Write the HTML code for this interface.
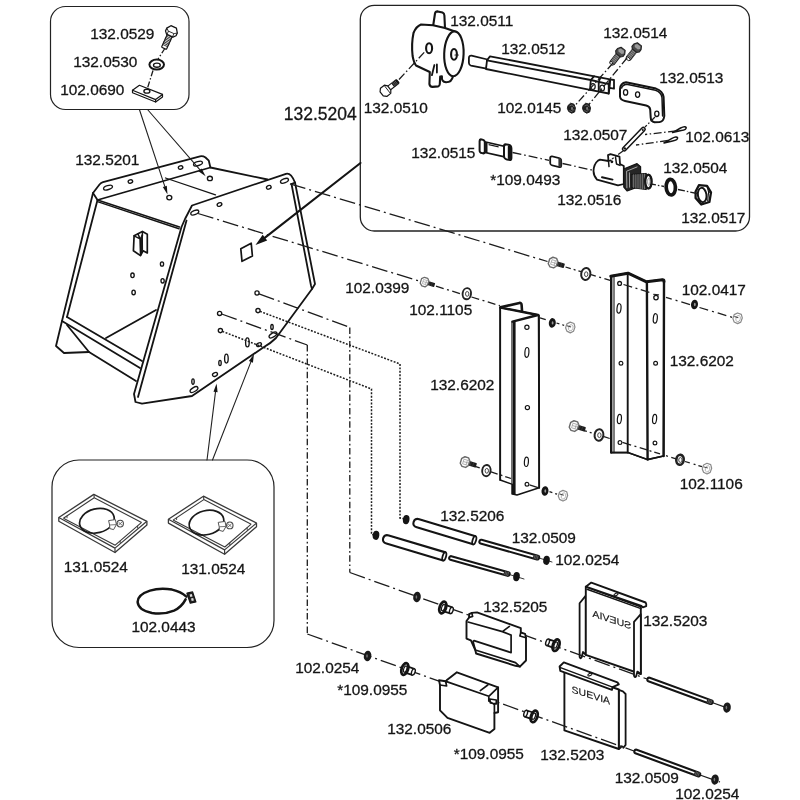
<!DOCTYPE html>
<html>
<head>
<meta charset="utf-8">
<title>Parts diagram</title>
<style>
html,body{margin:0;padding:0;background:#fff;}
body{width:800px;height:800px;overflow:hidden;font-family:"Liberation Sans",sans-serif;}
svg{display:block;filter:grayscale(1);}
svg text{font-family:"Liberation Sans",sans-serif;font-size:15.4px;fill:#151515;stroke:#151515;stroke-width:0.3;}
.o{fill:none;stroke:#141414;stroke-width:1.8;stroke-linejoin:round;stroke-linecap:round;}
.w{fill:#fff;stroke:#141414;stroke-width:1.8;stroke-linejoin:round;stroke-linecap:round;}
.t{fill:none;stroke:#222;stroke-width:0.9;stroke-linecap:round;}
.k{fill:none;stroke:#141414;stroke-width:2.2;stroke-linejoin:round;stroke-linecap:round;}
.dd{fill:none;stroke:#1c1c1c;stroke-width:1.3;stroke-dasharray:16 4 2 4;}
.dt{fill:none;stroke:#1c1c1c;stroke-width:1.5;stroke-dasharray:1.9 1.5;}
.h{fill:#fff;stroke:#141414;stroke-width:1.35;}
.b{fill:#141414;stroke:none;}
</style>
</head>
<body>
<svg width="800" height="800" viewBox="0 0 800 800">
<rect width="800" height="800" fill="#fff"/>

<!-- ===== FRAMES ===== -->
<g id="frames">
<rect class="t" x="50.5" y="6.5" width="138.5" height="103" rx="15" ry="15" style="stroke-width:1.2"/>
<rect class="t" x="360.3" y="5.3" width="389.2" height="225.7" rx="14" ry="14" style="stroke-width:1.3"/>
<rect class="t" x="52" y="460" width="222" height="187.5" rx="27" ry="27" style="stroke-width:1.2"/>
</g>

<!-- ===== HOUSING 132.5201 ===== -->
<g id="housing">
<!-- front panel -->
<path class="w" d="M185,219 L192,205.5 L286,173.8 Q291,172.5 295,182.5 L315,284 L312,289 L276,338 Q271,343 264,347 L192,396 L142,403.6 L135.5,402 L134,394 L181.5,227 Z"/>
<!-- front panel left thickness -->
<path class="o" d="M186.5,220.5 L138,397"/>
<!-- front panel right thickness -->
<path class="o" d="M291.5,184 L311,285.5 L312,289"/>
<path class="o" d="M291.5,184 L295,182.5"/>
<!-- flange -->
<path class="w" d="M93,193 L99.5,184.5 Q101,182.7 103,182.1 L200,156.3 Q203,155.8 205.5,157.5 L208.8,160.7 L210.4,167.5 L97.5,200 Z"/>
<!-- left panel -->
<path class="o" d="M93,193 L62,321 L56,346 L64,353 L89,352"/>
<path class="o" d="M97.5,200 L67,317"/>
<path class="o" d="M97.5,200 L179.5,227" style="stroke-width:1.6"/>
<path class="o" d="M98.2,201.9 L179,228.8" style="stroke-width:1.5"/>
<!-- back wall top edge & thin line -->
<path class="o" d="M210.4,167.5 L267.5,179.5"/>
<path class="o" d="M165.5,178 L215.5,194.8" style="stroke-width:1.3"/>
<!-- bottom crossbar -->
<path class="o" d="M67,317 L142,361"/>
<path class="o" d="M62,321 L140,368"/>
<path class="o" d="M67,325 L89,352 L136,381"/>
<path class="o" d="M106,338 L156,310"/>
<!-- U bracket on back wall -->
<path class="w" d="M134.1,235.8 L142.4,231.6 L147.3,234.3 L147.3,253 L143.1,250.8 L140.5,255.6 L133.4,250.8 Z" style="stroke-width:1.7"/>
<path d="M140.3,238.6 L142.4,234.2 L142.6,250.4 L140.6,254.6 Z" fill="#1a1a1a" stroke="#141414" stroke-width="1"/>
<path class="o" d="M134.1,235.8 L140.1,238.8 L140.5,255.6 M142.4,231.6 L142.4,236 M137.9,233.9 L140.1,238.8" style="stroke-width:1.5"/>
<!-- holes back wall -->
<ellipse class="h" cx="132.5" cy="275.3" rx="1.7" ry="2.3"/>
<ellipse class="h" cx="133.6" cy="292.4" rx="1.7" ry="2.3"/>
<ellipse class="h" cx="162" cy="264" rx="1.6" ry="2.2"/>
<ellipse class="h" cx="162.6" cy="280.8" rx="1.6" ry="2.2"/>
<!-- holes top surface -->
<ellipse class="h" cx="169.3" cy="197.6" rx="2.5" ry="2.2"/>
<ellipse class="h" cx="209.9" cy="178.4" rx="2.5" ry="2.2"/>
<!-- flange holes -->
<ellipse class="h" cx="108" cy="187.6" rx="4.6" ry="2" transform="rotate(-17 108 187.6)"/>
<ellipse class="h" cx="130.4" cy="181.5" rx="2.3" ry="1.6" transform="rotate(-17 130.4 181.5)"/>
<ellipse class="h" cx="180.6" cy="167.5" rx="2.3" ry="1.6" transform="rotate(-17 180.6 167.5)"/>
<ellipse class="h" cx="198" cy="163.6" rx="4.6" ry="2" transform="rotate(-17 198 163.6)"/>
<!-- front panel holes -->
<ellipse class="h" cx="194.8" cy="212.6" rx="4.2" ry="2" transform="rotate(-22 194.8 212.6)"/>
<ellipse class="h" cx="219.5" cy="204.5" rx="2.4" ry="1.7" transform="rotate(-22 219.5 204.5)"/>
<ellipse class="h" cx="268.8" cy="187.3" rx="2.4" ry="1.7" transform="rotate(-22 268.8 187.3)"/>
<ellipse class="h" cx="284.5" cy="180.8" rx="4.2" ry="2" transform="rotate(-22 284.5 180.8)"/>
<circle class="h" cx="257" cy="293" r="2.1"/>
<circle class="h" cx="258" cy="310.6" r="2.1"/>
<circle class="h" cx="219.6" cy="313.4" r="2.1"/>
<circle class="h" cx="220.4" cy="330.6" r="2.1"/>
<ellipse class="h" cx="272" cy="327" rx="1.2" ry="2.5"/>
<ellipse class="h" cx="273" cy="335" rx="4.4" ry="2" transform="rotate(-32 273 335)"/>
<ellipse class="h" cx="247.4" cy="342.4" rx="1.8" ry="4.5"/>
<ellipse class="h" cx="259" cy="344.6" rx="2.6" ry="1.6" transform="rotate(-25 259 344.6)"/>
<ellipse class="h" cx="226.4" cy="358.6" rx="1.8" ry="4.5"/>
<ellipse class="h" cx="220" cy="363" rx="1.2" ry="2.6"/>
<ellipse class="h" cx="215" cy="374.4" rx="2.6" ry="1.8" transform="rotate(-25 215 374.4)"/>
<ellipse class="h" cx="193" cy="381.6" rx="1.2" ry="2.8"/>
<ellipse class="h" cx="194" cy="389.6" rx="4.4" ry="2" transform="rotate(-32 194 389.6)"/>
<!-- small square window -->
<path class="o" d="M240.8,248.8 L251.2,243.2 L252.4,256 L242,261.3 Z" style="stroke-width:1.7"/>
</g>

<!-- ===== BRACKETS 132.6202 ===== -->
<g id="brackets">
<!-- left bracket -->
<path class="w" style="stroke-width:1.5" d="M500.2,307.5 L538.5,315 L539.2,487.8 L517,495 L512.4,494 L512.4,484.4 L500.2,480 Z"/>
<path class="k" style="stroke-width:2.6" d="M500.4,307.3 L519.5,302.9 Q521.5,302.8 521.6,305 L522,310.5"/>
<path class="k" style="stroke-width:2.4" d="M500.6,307.6 L538,315 L512.5,321.6"/>
<path class="k" style="stroke-width:2.6" d="M514.3,322 L514.3,493.5"/>
<path class="o" style="stroke-width:1.2" d="M512,321.8 L512,494"/>
<path class="o" style="stroke-width:1.8" d="M539,315.5 L539.2,487.8"/>
<path class="o" style="stroke-width:1.8" d="M500.2,307.5 L500.2,480"/>
<circle class="h" cx="526.9" cy="327.3" r="2.1" style="stroke-width:1.2"/>
<ellipse class="h" cx="526.9" cy="352.4" rx="2" ry="4.9" style="stroke-width:1.2" transform="rotate(4 526.9 352.4)"/>
<circle class="h" cx="527.4" cy="407.6" r="2.1" style="stroke-width:1.2"/>
<ellipse class="h" cx="526.4" cy="461.8" rx="2" ry="4.7" style="stroke-width:1.2" transform="rotate(4 526.4 461.8)"/>
<circle class="h" cx="527" cy="484.2" r="1.9" style="stroke-width:1.2"/>
<!-- right bracket -->
<path class="w" style="stroke-width:1.5" d="M610.8,276 L628,273 L646.5,281.6 L662.5,279.6 Q664,279.6 664,281 L663.6,456 L647.5,459.6 L628,452.6 L611,452.6 Z"/>
<path class="k" style="stroke-width:3" d="M610.8,276.2 L628,273.2 L646.5,281.8 L662.5,279.8 Q664,279.8 664,281.5"/>
<path class="k" style="stroke-width:2.4" d="M611.2,276.5 L611.2,452.4"/>
<path class="o" style="stroke-width:1.1" d="M614,277.5 L614,452.6"/>
<path class="o" style="stroke-width:1.9" d="M627.7,274 L627.7,452.6"/>
<path class="k" style="stroke-width:2.4" d="M646.9,282.5 L647.6,459.4"/>
<path class="k" style="stroke-width:2.4" d="M664,281.5 L663.6,456"/>
<path class="o" style="stroke-width:1.6" d="M611,452.6 L628,452.6 L647.5,459.6 L663.6,456"/>
<circle class="h" cx="619.6" cy="283.4" r="1.9" style="stroke-width:1.3"/>
<ellipse class="h" cx="619" cy="308.4" rx="2" ry="4.7" style="stroke-width:1.2" transform="rotate(6 619 308.4)"/>
<circle class="h" cx="621" cy="363.2" r="1.9" style="stroke-width:1.2"/>
<ellipse class="h" cx="619.4" cy="419" rx="2" ry="4.7" style="stroke-width:1.2" transform="rotate(6 619.4 419)"/>
<circle class="h" cx="620" cy="442.6" r="1.9" style="stroke-width:1.2"/>
<circle class="h" cx="656" cy="297.6" r="2.2" style="stroke-width:1.3"/>
<path class="t" d="M653.6,294.3 L658.6,294.9" style="stroke-width:1.1"/>
<ellipse class="h" cx="655.3" cy="318.4" rx="2" ry="4.7" style="stroke-width:1.2" transform="rotate(6 655.3 318.4)"/>
<circle class="h" cx="655.6" cy="363.2" r="1.9" style="stroke-width:1.2"/>
<ellipse class="h" cx="654.6" cy="419" rx="2" ry="4.7" style="stroke-width:1.2" transform="rotate(6 654.6 419)"/>
<circle class="h" cx="655" cy="443" r="1.9" style="stroke-width:1.2"/>
</g>

<!-- ===== FLAPS ===== -->
<g id="flapparts">
<!-- upper flap 132.5203 -->
<path class="w" style="stroke-width:1.8" d="M585.8,595.6 L579.6,603.2 L579.6,657 Q580.4,659.4 581.6,657.4 L583,652 L585.8,654.8 Z"/>
<path class="w" style="stroke-width:1.9" d="M585.8,586.7 L640.8,606.6 L640.8,674 L585.8,654.8 Z"/>
<path class="w" style="stroke-width:1.9" d="M585.8,586.7 L591.3,582.6 L645.6,602.5 Q646.8,604.5 646.2,606.2 L642.9,607.4 L641.4,606 L585.8,586.7 Z"/>
<path class="o" style="stroke-width:1.5" d="M587,589.2 L641,608.6"/>
<path class="w" style="stroke-width:1.8" d="M640.8,614.2 L634,621.8 L634,675.6 Q635,678.4 636.2,676 L637.4,671.6 L640.8,674 Z"/>
<ellipse class="h" cx="616" cy="594.4" rx="2.2" ry="1.1" transform="rotate(-25 616 594.4)" style="stroke-width:1.1"/>
<text transform="matrix(-0.95,-0.31,0,1,631.3,629.3)" style="font-size:9.6px;stroke-width:0.15" textLength="41" lengthAdjust="spacingAndGlyphs">SUEVIA</text>
<!-- lower flap 132.5203 -->
<path class="w" style="stroke-width:1.8" d="M618.8,689.9 L622.9,691.3 L625.6,694 L625.6,744.9 L623.4,747.8 Q622,745 621,747.2 L618.8,749 Z"/>
<path class="w" style="stroke-width:1.9" d="M564.4,670 L618.8,689.5 L618.8,749 L564.4,730.4 Z"/>
<path class="w" style="stroke-width:1.9" d="M559.6,666.5 L563.8,662.4 L617.4,682.3 L618.8,684.4 L612.6,687.1 L611.9,689.9 L560.3,670.8 Z"/>
<path class="o" style="stroke-width:1.5" d="M559.8,667.4 L612.6,687.1"/>
<ellipse class="h" cx="589.9" cy="674.6" rx="2.2" ry="1.1" transform="rotate(-25 589.9 674.6)" style="stroke-width:1.1"/>
<text transform="matrix(0.95,0.3,0,1,571.6,692.4)" style="font-size:9.6px;stroke-width:0.15" textLength="40.5" lengthAdjust="spacingAndGlyphs">SUEVIA</text>
</g>

<!-- ===== LEADER / CENTER LINES ===== -->
<g id="lines">
<path class="k" style="stroke-width:2.1" d="M360.5,163.0 L265.0,237.6"/><path class="b" d="M255.5,245.0 L262.7,234.7 L267.2,240.5 Z"/>
<path class="t" style="stroke-width:1.1" d="M139.4,109.5 L164.8,186.3"/><path class="b" d="M167.5,194.4 L162.8,187.0 L166.8,185.7 Z"/>
<path class="t" style="stroke-width:1.1" d="M147.5,109.5 L200.0,169.9"/><path class="b" d="M205.6,176.3 L198.4,171.3 L201.6,168.5 Z"/>
<path class="t" style="stroke-width:1.1" d="M207.0,460.0 L215.5,391.9"/><path class="b" d="M216.6,383.5 L217.6,392.2 L213.5,391.7 Z"/>
<path class="t" style="stroke-width:1.1" d="M212.5,460.0 L250.9,361.9"/><path class="b" d="M254.0,354.0 L252.9,362.7 L248.9,361.1 Z"/>
<path class="dd" d="M290.0,183.8 L547.5,261.5"/>
<path class="dd" d="M565.5,267.0 L581.0,271.7" style="stroke-dasharray:5.5 3 2 3"/>
<path class="dd" d="M591.0,274.7 L611.0,280.7" style="stroke-dasharray:5 3.5 2 3.5 20"/>
<path class="dd" d="M623.5,284.5 L652.0,293.1" style="stroke-dasharray:9 3.5 2 3.5"/>
<path class="dd" d="M666.0,297.3 L690.0,304.6" style="stroke-dasharray:6 4 2 4 20"/>
<path class="dd" d="M699.5,307.5 L733.0,317.6" style="stroke-dasharray:9 4 2 4"/>
<path class="dd" d="M198.0,213.5 L419.5,281.1"/>
<path class="dd" d="M436.0,286.2 L462.5,294.3" style="stroke-dasharray:8 3.5 2 3.5"/>
<path class="dd" d="M471.5,297.0 L500.0,305.7" style="stroke-dasharray:8 3.5 2 3.5"/>
<path class="dd" d="M540.0,317.9 L548.0,320.4" style="stroke-dasharray:6 20"/>
<path class="dd" d="M556.5,323.0 L566.0,325.9" style="stroke-dasharray:3 3 2 3"/>
<path class="dd" d="M475.0,466.3 L482.0,468.7" style="stroke-dasharray:5 20"/>
<path class="dd" d="M491.0,471.8 L511.0,478.5" style="stroke-dasharray:7 3 2 3"/>
<path class="dd" d="M529.5,484.8 L541.0,488.7" style="stroke-dasharray:9 20"/>
<path class="dd" d="M549.5,491.6 L559.0,494.8" style="stroke-dasharray:3 3 2 3"/>
<path class="dd" d="M584.0,430.6 L594.5,433.8" style="stroke-dasharray:3 3 2 3"/>
<path class="dd" d="M604.0,436.7 L611.0,438.9" style="stroke-dasharray:6 20"/>
<path class="dd" d="M622.5,442.4 L647.0,449.9" style="stroke-dasharray:9 3.5 2 3.5"/>
<path class="dd" d="M649.5,450.7 L662.0,454.5" style="stroke-dasharray:2 3 6 20"/>
<path class="dd" d="M666.0,455.7 L676.0,458.8" style="stroke-dasharray:2 3.5 5 20"/>
<path class="dd" d="M685.0,461.5 L702.0,466.7" style="stroke-dasharray:5 4 2 3 4 20"/>
<path class="dd" d="M259,293.8 L350,327.5"/>
<path class="dd" d="M349.8,327.5 L349.8,572.5" style="stroke-dasharray:6.5 2.6 1.7 2.6"/>
<path class="dd" d="M349.8,572.5 L647,679"/>
<path class="dd" d="M712,702.5 L730,709"/>
<path class="dd" d="M221.6,314 L307.3,345"/>
<path class="dd" d="M307.3,345 L307.3,634" style="stroke-dasharray:6.5 2.6 1.7 2.6"/>
<path class="dd" d="M307.3,634 L634,751"/>
<path class="dd" d="M700,775 L720,782"/>
<path class="dt" d="M260,311.4 L400,364 L400,518 L406,519"/>
<path class="dt" d="M222.4,331.4 L371.5,389 L371.5,534.5 L377,535.5"/>
<path class="t" d="M539,558 L552,562"/>
<path class="t" d="M509,574.4 L524,579"/>
</g>

<!-- ===== TOP LEFT BOX PARTS ===== -->
<g id="tlparts">
<!-- bolt 132.0529 -->
<g transform="translate(171.6,31.5) rotate(24.5)">
  <rect class="w" x="-2.7" y="3" width="5.4" height="15.5" rx="0.8" style="stroke-width:1.2"/>
  <path class="t" d="M-2.7,5 H2.7 M-2.7,6.5 H2.7 M-2.7,8 H2.7 M-2.7,9.5 H2.7 M-2.7,11 H2.7 M-2.7,12.5 H2.7 M-2.7,14 H2.7 M-2.7,15.5 H2.7" style="stroke-width:0.8"/>
  <path class="w" d="M-5.8,-1 L-3,-5 L3,-5 L5.8,-1 L5.8,2 L3.5,4.5 L-3.5,4.5 L-5.8,2 Z" style="stroke-width:1.3"/>
  <path class="t" d="M-5.8,-1 L-3,1 L3,1 L5.8,-1 M-3,1 V4.5 M3,1 V4.5"/>
</g>
<!-- washer 132.0530 -->
<ellipse class="w" cx="156.7" cy="64.6" rx="7.3" ry="5" style="stroke-width:2"/>
<ellipse class="h" cx="156.9" cy="65.2" rx="3.4" ry="2.1"/>
<!-- plate 102.0690 -->
<path class="w" d="M132.5,90.2 L139.4,85.3 L162.5,94.4 L162.5,97 L155.6,102 L132.5,92.7 Z" style="stroke-width:1.2"/>
<path class="o" d="M132.5,90.2 L155.6,99.6 L162.5,94.4 M155.6,99.6 V102" style="stroke-width:1.2"/>
<ellipse class="h" cx="146.9" cy="91.2" rx="3" ry="1.9"/>
</g>

<!-- ===== TOP RIGHT BOX PARTS ===== -->
<g id="trparts">
<!-- valve body 132.0511 -->
<path class="w" style="stroke-width:2.1" d="M433.2,25.5 L435,13.5 Q435.4,11.3 437.8,11.4 L442.5,12.6 Q444.3,13.2 444.4,15.5 L445,28"/>
<path class="w" style="stroke-width:2.1" d="M455,31.6 L445,28 L433,25.3 L421,24.5 Q416,26.5 413.5,33 Q411.2,44 412.6,56 Q413.8,62.5 416,65.5 L429.8,72 L429.4,84 Q429.8,86.8 432.5,86.9 L438.2,86.4 Q439.6,86.2 439.8,84 L440.2,76.5 L441.9,76.3 Q441.4,82 446,82.3 Q451.8,82.4 452.9,76.4 Z"/>
<ellipse class="w" style="stroke-width:2.1" cx="453.9" cy="53.8" rx="9.7" ry="22.4" transform="rotate(2 453.9 53.8)"/>
<ellipse class="w" style="stroke-width:2.1" cx="454" cy="54.4" rx="2.9" ry="5.4"/>
<path class="t" d="M455,55 H458.3" style="stroke-width:1.2"/>
<ellipse class="w" style="stroke-width:2.1" cx="429.1" cy="48.2" rx="3" ry="5"/>
<path class="o" d="M434.4,65 L431.9,75.2 M436.9,64.4 V72.5" style="stroke-width:1.8"/>
<!-- bolt 132.0510 -->
<g transform="translate(385.6,90.8) rotate(-38)">
  <rect class="w" x="3" y="-2.3" width="12.5" height="4.6" rx="0.8" style="stroke-width:1.1"/>
  <rect class="b" x="9" y="-2.4" width="6.6" height="4.8" rx="0.8"/>
  <path d="M10.5,-2.4 V2.4 M12,-2.4 V2.4 M13.5,-2.4 V2.4" stroke="#999" stroke-width="0.5"/>
  <path class="w" d="M-5,-2.6 L-2.5,-5.2 L2.5,-5.2 L4.6,-2.6 L4.6,2.6 L2.5,5.2 L-2.5,5.2 L-5,2.6 Z" style="stroke-width:1.2"/>
  <path class="t" d="M2.2,-5 V5"/>
</g>
<!-- rod 132.0512 -->
<path class="w" style="stroke-width:1.8" d="M487.5,59.5 L471.5,55.6 Q469,55.4 468.9,58 L468.9,63 Q469,65 471,65.6 L486.5,68.6 Z"/>
<path class="w" style="stroke-width:1.8" d="M487,60.4 L490,56.3 L610,79.3 L614,80 L614,88.7 L609.5,87.8 L608.7,93.5 L590,89.8 L486,69 Z"/>
<path class="o" style="stroke-width:1.8" d="M487,60.4 L590.8,80 L608.7,84.2 L608.7,93.5 M590.8,80 L590,89.8 M590.8,80 L594,76.3 M608.7,84.2 L610.3,79.3 L609.5,87.8 M598.7,81.8 L600.5,77.5 M598.7,81.8 V91.4"/>
<ellipse class="h" cx="592.9" cy="86.6" rx="2.3" ry="2.9" style="stroke-width:1.2"/>
<ellipse class="h" cx="602.2" cy="88" rx="2.3" ry="2.9" style="stroke-width:1.2"/>
<!-- bolts 132.0514 -->
<g id="b14" transform="translate(620.4,52.3) rotate(38)">
  <rect x="-2.6" y="2.5" width="5.2" height="11.5" rx="1" fill="#5a5a5a" stroke="#222" stroke-width="1"/>
  <path d="M-2.6,5 H2.6 M-2.6,6.8 H2.6 M-2.6,8.6 H2.6 M-2.6,10.4 H2.6 M-2.6,12.2 H2.6" stroke="#bbb" stroke-width="0.5"/>
  <ellipse cx="0" cy="14" rx="2.4" ry="1.4" fill="#eee" stroke="#222" stroke-width="0.9"/>
  <path d="M-4.6,-1.2 L-2.6,-4.4 L2.6,-4.4 L4.6,-1.2 L4.6,1.8 L2.8,3.6 L-2.8,3.6 L-4.6,1.8 Z" fill="#4a4a4a" stroke="#222" stroke-width="1.1" stroke-linejoin="round"/>
  <path d="M-3.4,-1.2 L-2,-3.4 L2,-3.4 L3.4,-1.2 L2,0.6 L-2,0.6 Z" fill="#9a9a9a" stroke="none"/>
</g>
<use href="#b14" x="16.3" y="-4.5"/>
<!-- nuts 102.0145 -->
<g id="n145"><path d="M568,105.6 L570.6,103.2 L574,104.2 L575.4,108 L574.6,112 L571.6,113.2 L568.6,111.4 L567.4,108.4 Z" fill="#1e1e1e" stroke="#1e1e1e" stroke-width="1" stroke-linejoin="round"/><path d="M569.4,106 l2.8,-1.2 l2,2.4 M569.2,110.6 l2.8,1 l2,-2.4" stroke="#8a8a8a" stroke-width="0.6" fill="none"/><ellipse cx="572" cy="108.4" rx="1" ry="1.6" fill="#777"/></g>
<use href="#n145" x="15.1" y="0"/>
<!-- bracket 132.0513 -->
<path class="w" style="stroke-width:2" d="M620,96.5 L620,89 Q620.3,83.2 626,82.3 L656,88.6 Q662.6,90.6 663.6,97 L664.3,116 Q663.6,121.6 659.6,122.1 L654.5,122.3 Q650.8,121.3 650.7,117.5 L650.2,109.5 Q649.7,106.3 646.2,105.5 L625,101 Q620.3,100 620,96.5 Z"/>
<path class="o" style="stroke-width:1.5" d="M621.6,88 Q622.3,85 626.6,84.2 L655.5,90.3 Q661,92 662,97.5 L662.6,116"/>
<ellipse class="h" cx="625.6" cy="92.4" rx="2.1" ry="2.7" style="stroke-width:1.3"/>
<ellipse class="h" cx="637.6" cy="94.6" rx="2.1" ry="2.7" style="stroke-width:1.3"/>
<ellipse class="h" cx="656.8" cy="113.8" rx="2.1" ry="2.7" style="stroke-width:1.3"/>
<!-- link 132.0507 -->
<path d="M643.3,129.3 L624.3,149" stroke="#141414" stroke-width="5.2" stroke-linecap="round" fill="none"/>
<path d="M643.3,129.3 L624.3,149" stroke="#fff" stroke-width="2.2" stroke-linecap="round" fill="none"/>
<circle cx="642.8" cy="129.9" r="1" class="b"/><circle cx="624.8" cy="148.4" r="1.2" class="b"/>
<!-- cotter pins 102.0613 -->
<g id="cp"><path d="M672.6,132.6 L680.6,128 Q685.4,125.6 686.2,127.6 Q686.4,129.8 681.2,130.6 Z" fill="#fff" stroke="#141414" stroke-width="1.5" stroke-linejoin="round"/></g>
<use href="#cp" x="-8.6" y="10.3"/>
<!-- body 132.0516 -->
<path class="w" style="stroke-width:1.8" d="M608.5,161 L608,155.2 L610.5,154.2 L619.5,156.6 L620,164 L623.8,166 L623.8,184 L618,185.4 L597,179.6 Q593.6,176 593.5,171 Q593.8,164 598,160.6 L600,159.6 Z"/>
<path class="o" style="stroke-width:1.5" d="M608.5,161 L609,166.6 M615.5,157.2 L616.5,164 L620,165.4 M608.5,161 L611,160.2"/>
<circle cx="611.9" cy="161.8" r="1.4" class="b"/>
<path class="k" d="M602,177.2 L612.5,179.6" style="stroke-width:2"/>
<path d="M623.6,169 L637,163.6 L640.6,166.6 L640.6,186 L627.2,191 L623.8,187 Z" fill="#262626" stroke="#141414" stroke-width="1.2" stroke-linejoin="round"/>
<path d="M626.6,171.2 L637.4,166.8 M626.6,171.2 L626.9,188.2 M629.4,172.4 L629.6,187.6" fill="none" stroke="#c8c8c8" stroke-width="0.8"/>
<path d="M631.2,174.4 L646.4,173.4 L646.4,189.6 L631.2,187.6 Z" fill="#333" stroke="#141414" stroke-width="1"/>
<path d="M633.6,174.3 V187.9 M635.8,174.2 V188.2 M638,174 V188.5 M640.2,173.9 V188.8 M642.4,173.7 V189.1 M644.5,173.6 V189.3" stroke="#9a9a9a" stroke-width="0.6"/>
<ellipse cx="648.4" cy="181.6" rx="3.2" ry="6.9" fill="#fff" stroke="#161616" stroke-width="2.4"/>
<ellipse cx="648.8" cy="181.6" rx="1.2" ry="3.6" fill="#fff" stroke="#555" stroke-width="0.6"/>
<!-- o-ring 132.0504 -->
<ellipse cx="670.8" cy="187.2" rx="4.6" ry="7.8" fill="#fff" stroke="#141414" stroke-width="3.7" transform="rotate(-4 670.8 187.2)"/>
<!-- nut 132.0517 -->
<path d="M695.6,191.5 L698.9,185.2 L707,185.9 L711,192.4 L709.4,202 L701.3,204.5 L695.6,198 Z" fill="#fff" stroke="#141414" stroke-width="2.3" stroke-linejoin="round"/>
<ellipse cx="702.2" cy="195" rx="4.3" ry="7.2" fill="#fff" stroke="#141414" stroke-width="2" transform="rotate(-8 702.2 195)"/>
<path d="M707,186 L708.6,192 L707.6,201.5 M711,192.4 L708.6,192" fill="none" stroke="#141414" stroke-width="1.1"/>
<!-- 132.0515 -->
<g transform="matrix(1,0.23,0,1,479.6,139)">
<rect x="5" y="1.6" width="20" height="10.6" fill="#fff" stroke="#141414" stroke-width="1.8"/>
<rect x="0" y="0" width="5.2" height="13.6" rx="2.2" fill="#fff" stroke="#141414" stroke-width="2"/>
<path d="M6.8,1.6 V12.2" stroke="#141414" stroke-width="2.2"/>
<path d="M9,3.6 H19" stroke="#141414" stroke-width="1.3"/>
<rect x="24.4" y="-0.8" width="7.4" height="15" rx="2.8" fill="#fff" stroke="#141414" stroke-width="2"/>
<rect x="28.2" y="-0.6" width="3.8" height="14.6" rx="1.9" fill="#141414"/>
</g>
<!-- *109.0493 small cylinder -->
<g transform="matrix(1,0.23,0,1,550.2,156)">
<rect x="0" y="0" width="11" height="9" rx="2" fill="#fff" stroke="#141414" stroke-width="1.8"/>
<rect x="8.2" y="0" width="3" height="9" rx="1.5" fill="#333"/>
</g>
</g>
<g id="boxlines">
<path class="dd" d="M164.5,49 L157.5,60" style="stroke-dasharray:5 2 1.5 2"/>
<path class="dd" d="M153,70.5 L147.5,88" style="stroke-dasharray:6 2 1.5 2"/>
<path class="dd" d="M399,79.5 L426,50.5" style="stroke-dasharray:8 2.5 1.5 2.5"/>
<path class="dd" d="M512.5,152.5 L549,160.3" style="stroke-dasharray:9 3 1.5 3"/>
<path class="dd" d="M562.5,163.5 L594,170.5" style="stroke-dasharray:9 3 1.5 3"/>
<path class="dd" d="M651,184 L664,186.5" style="stroke-dasharray:5 2 1.5 2"/>
<path class="dd" d="M678,189.5 L697,193.5" style="stroke-dasharray:7 2 1.5 2"/>
<path class="dd" d="M613,63 L575.5,105" style="stroke-dasharray:8 2.5 1.5 2.5"/>
<path class="dd" d="M627,58 L588.5,105" style="stroke-dasharray:8 2.5 1.5 2.5"/>
<path class="dd" d="M676,131 L645,134.5" style="stroke-dasharray:8 2.5 1.5 2.5"/>
<path class="dd" d="M668,140.5 L636,145" style="stroke-dasharray:8 2.5 1.5 2.5"/>
<path class="dd" d="M655,117 L645,127" style="stroke-dasharray:6 2 1.5 2"/>
<path class="dd" d="M623,151 L612,159" style="stroke-dasharray:6 2 1.5 2"/>
</g>

<!-- ===== HARDWARE ===== -->
<g id="hardware">
<g transform="translate(553,262.5) rotate(17) scale(1.0)">
<rect x="3.5" y="-2.3" width="8.3" height="4.6" rx="0.7" fill="#1d1d1d"/>
<path d="M6,-2.3 V2.3 M8.5,-2.3 V2.3" stroke="#555" stroke-width="0.4"/>
<path d="M-4.2,-2.6 L-1.6,-5 L2.2,-5 L4.2,-2.6 L4.2,2.6 L2.2,5 L-1.6,5 L-4.2,2.6 Z" fill="#fff" stroke="#6a6a6a" stroke-width="1.4" stroke-linejoin="round"/>
<path d="M-1.8,-2.4 L1.8,-2.4 L1.8,2.4 L-1.8,2.4 Z M1.8,-2.4 L4,-2.6 M1.8,2.4 L4,2.6 M-1.8,0 H4" fill="none" stroke="#999" stroke-width="0.7"/>
</g>
<ellipse cx="585.8" cy="274" rx="4.6" ry="6" fill="#fff" stroke="#222" stroke-width="2" transform="rotate(8 585.8 274)"/><ellipse cx="586.1999999999999" cy="274.2" rx="1.7" ry="2.4" fill="#fff" stroke="#333" stroke-width="0.9"/>
<ellipse cx="694.5" cy="304.5" rx="3.5" ry="4.8" fill="#151515" transform="rotate(8 694.5 304.5)"/><ellipse cx="694.8" cy="304.5" rx="0.9" ry="1.7" fill="#999"/>
<g transform="translate(737.6,318.2) rotate(17)">
<path d="M-4.3,-2.4 L-1.6,-5 L2.4,-4.8 L4.4,-1.6 L4.2,2.8 L1.6,5.2 L-2.2,4.6 L-4.4,1.8 Z" fill="#fff" stroke="#8a8a8a" stroke-width="1.2" stroke-linejoin="round"/>
<ellipse cx="0.6" cy="0.2" rx="2.2" ry="3.2" fill="none" stroke="#aaa" stroke-width="0.8"/>
<path d="M-3.6,-0.6 H0.6" stroke="#444" stroke-width="1"/>
</g>
<g transform="translate(424.5,282) rotate(17) scale(0.9)">
<rect x="3.5" y="-2.3" width="8.3" height="4.6" rx="0.7" fill="#1d1d1d"/>
<path d="M6,-2.3 V2.3 M8.5,-2.3 V2.3" stroke="#555" stroke-width="0.4"/>
<path d="M-4.2,-2.6 L-1.6,-5 L2.2,-5 L4.2,-2.6 L4.2,2.6 L2.2,5 L-1.6,5 L-4.2,2.6 Z" fill="#fff" stroke="#6a6a6a" stroke-width="1.4" stroke-linejoin="round"/>
<path d="M-1.8,-2.4 L1.8,-2.4 L1.8,2.4 L-1.8,2.4 Z M1.8,-2.4 L4,-2.6 M1.8,2.4 L4,2.6 M-1.8,0 H4" fill="none" stroke="#999" stroke-width="0.7"/>
</g>
<ellipse cx="466.8" cy="293.7" rx="4.2" ry="5.6" fill="#fff" stroke="#222" stroke-width="1.9" transform="rotate(8 466.8 293.7)"/><ellipse cx="467.2" cy="293.9" rx="1.7" ry="2.4" fill="#fff" stroke="#333" stroke-width="0.9"/>
<ellipse cx="552.3" cy="322.9" rx="3.5" ry="4.8" fill="#151515" transform="rotate(8 552.3 322.9)"/><ellipse cx="552.5999999999999" cy="322.9" rx="0.9" ry="1.7" fill="#999"/>
<g transform="translate(570.3,327.4) rotate(17)">
<path d="M-4.3,-2.4 L-1.6,-5 L2.4,-4.8 L4.4,-1.6 L4.2,2.8 L1.6,5.2 L-2.2,4.6 L-4.4,1.8 Z" fill="#fff" stroke="#8a8a8a" stroke-width="1.2" stroke-linejoin="round"/>
<ellipse cx="0.6" cy="0.2" rx="2.2" ry="3.2" fill="none" stroke="#aaa" stroke-width="0.8"/>
<path d="M-3.6,-0.6 H0.6" stroke="#444" stroke-width="1"/>
</g>
<g transform="translate(465,462) rotate(17) scale(1.0)">
<rect x="3.5" y="-2.3" width="8.3" height="4.6" rx="0.7" fill="#1d1d1d"/>
<path d="M6,-2.3 V2.3 M8.5,-2.3 V2.3" stroke="#555" stroke-width="0.4"/>
<path d="M-4.2,-2.6 L-1.6,-5 L2.2,-5 L4.2,-2.6 L4.2,2.6 L2.2,5 L-1.6,5 L-4.2,2.6 Z" fill="#fff" stroke="#6a6a6a" stroke-width="1.4" stroke-linejoin="round"/>
<path d="M-1.8,-2.4 L1.8,-2.4 L1.8,2.4 L-1.8,2.4 Z M1.8,-2.4 L4,-2.6 M1.8,2.4 L4,2.6 M-1.8,0 H4" fill="none" stroke="#999" stroke-width="0.7"/>
</g>
<ellipse cx="486.4" cy="470.6" rx="4.2" ry="5.6" fill="#fff" stroke="#222" stroke-width="1.9" transform="rotate(8 486.4 470.6)"/><ellipse cx="486.79999999999995" cy="470.8" rx="1.7" ry="2.4" fill="#fff" stroke="#333" stroke-width="0.9"/>
<ellipse cx="545" cy="491" rx="3.5" ry="4.8" fill="#151515" transform="rotate(8 545 491)"/><ellipse cx="545.3" cy="491" rx="0.9" ry="1.7" fill="#999"/>
<g transform="translate(563,495.6) rotate(17)">
<path d="M-4.3,-2.4 L-1.6,-5 L2.4,-4.8 L4.4,-1.6 L4.2,2.8 L1.6,5.2 L-2.2,4.6 L-4.4,1.8 Z" fill="#fff" stroke="#8a8a8a" stroke-width="1.2" stroke-linejoin="round"/>
<ellipse cx="0.6" cy="0.2" rx="2.2" ry="3.2" fill="none" stroke="#aaa" stroke-width="0.8"/>
<path d="M-3.6,-0.6 H0.6" stroke="#444" stroke-width="1"/>
</g>
<g transform="translate(574,426) rotate(17) scale(1.0)">
<rect x="3.5" y="-2.3" width="8.3" height="4.6" rx="0.7" fill="#1d1d1d"/>
<path d="M6,-2.3 V2.3 M8.5,-2.3 V2.3" stroke="#555" stroke-width="0.4"/>
<path d="M-4.2,-2.6 L-1.6,-5 L2.2,-5 L4.2,-2.6 L4.2,2.6 L2.2,5 L-1.6,5 L-4.2,2.6 Z" fill="#fff" stroke="#6a6a6a" stroke-width="1.4" stroke-linejoin="round"/>
<path d="M-1.8,-2.4 L1.8,-2.4 L1.8,2.4 L-1.8,2.4 Z M1.8,-2.4 L4,-2.6 M1.8,2.4 L4,2.6 M-1.8,0 H4" fill="none" stroke="#999" stroke-width="0.7"/>
</g>
<ellipse cx="599" cy="435" rx="4.4" ry="5.8" fill="#fff" stroke="#222" stroke-width="2" transform="rotate(8 599 435)"/><ellipse cx="599.4" cy="435.2" rx="1.7" ry="2.4" fill="#fff" stroke="#333" stroke-width="0.9"/>
<ellipse cx="680" cy="459.8" rx="3.7" ry="5" fill="#fff" stroke="#222" stroke-width="2.6" transform="rotate(8 680 459.8)"/><ellipse cx="680.4" cy="460.0" rx="1.7" ry="2.4" fill="#fff" stroke="#333" stroke-width="0.9"/>
<g transform="translate(707,468.5) rotate(17)">
<path d="M-4.3,-2.4 L-1.6,-5 L2.4,-4.8 L4.4,-1.6 L4.2,2.8 L1.6,5.2 L-2.2,4.6 L-4.4,1.8 Z" fill="#fff" stroke="#8a8a8a" stroke-width="1.2" stroke-linejoin="round"/>
<ellipse cx="0.6" cy="0.2" rx="2.2" ry="3.2" fill="none" stroke="#aaa" stroke-width="0.8"/>
<path d="M-3.6,-0.6 H0.6" stroke="#444" stroke-width="1"/>
</g>
</g>

<!-- ===== RODS / TUBES ===== -->
<g id="rods">
<g transform="translate(415.8,522.6) rotate(16.83)">
<path d="M2.31,-4.2 L61.12,-4.2 L61.12,4.2 L2.31,4.2 Q-2.31,4.2 -2.31,0 Q-2.31,-4.2 2.31,-4.2 Z" fill="#fff" stroke="#141414" stroke-width="2.1" stroke-linejoin="round"/>
<ellipse cx="61.12" cy="0" rx="1.7" ry="4.2" fill="#fff" stroke="#141414" stroke-width="1.8"/>
</g>
<g transform="translate(385.4,538.8) rotate(16.64)">
<path d="M2.31,-4.2 L61.47,-4.2 L61.47,4.2 L2.31,4.2 Q-2.31,4.2 -2.31,0 Q-2.31,-4.2 2.31,-4.2 Z" fill="#fff" stroke="#141414" stroke-width="2.1" stroke-linejoin="round"/>
<ellipse cx="61.47" cy="0" rx="1.7" ry="4.2" fill="#fff" stroke="#141414" stroke-width="1.8"/>
</g>
<g transform="translate(479.5,541.2) rotate(15.77)">
<rect x="0" y="-1.9" width="61.83" height="3.8" rx="1.6" fill="#fff" stroke="#141414" stroke-width="2.1"/>
<rect x="55.83" y="-1.9" width="6" height="3.8" rx="1" fill="#222"/><path d="M57.33,-2.1 v4.2 M58.83,-2.1 v4.2 M60.33,-2.1 v4.2" stroke="#888" stroke-width="0.5"/>
</g>
<g transform="translate(449.3,557.6) rotate(15.59)">
<rect x="0" y="-1.9" width="62.50" height="3.8" rx="1.6" fill="#fff" stroke="#141414" stroke-width="2.1"/>
<rect x="56.50" y="-1.9" width="6" height="3.8" rx="1" fill="#222"/><path d="M58.00,-2.1 v4.2 M59.50,-2.1 v4.2 M61.00,-2.1 v4.2" stroke="#888" stroke-width="0.5"/>
</g>
<g transform="translate(647.5,679) rotate(20.03)">
<rect x="0" y="-1.9" width="69.19" height="3.8" rx="1.6" fill="#fff" stroke="#141414" stroke-width="2.1"/>
<rect x="63.19" y="-1.9" width="6" height="3.8" rx="1" fill="#222"/><path d="M64.69,-2.1 v4.2 M66.19,-2.1 v4.2 M67.69,-2.1 v4.2" stroke="#888" stroke-width="0.5"/>
</g>
<g transform="translate(634.5,751) rotate(20.12)">
<rect x="0" y="-1.9" width="69.76" height="3.8" rx="1.6" fill="#fff" stroke="#141414" stroke-width="2.1"/>
<rect x="63.76" y="-1.9" width="6" height="3.8" rx="1" fill="#222"/><path d="M65.26,-2.1 v4.2 M66.76,-2.1 v4.2 M68.26,-2.1 v4.2" stroke="#888" stroke-width="0.5"/>
</g>
<ellipse cx="406.2" cy="519.6" rx="3.3" ry="4.6" fill="#151515" transform="rotate(8 406.2 519.6)"/>
<ellipse cx="376" cy="535.3" rx="3.3" ry="4.6" fill="#151515" transform="rotate(8 376 535.3)"/>
<ellipse cx="546.5" cy="560.3" rx="3.3" ry="4.6" fill="#151515" transform="rotate(8 546.5 560.3)"/>
<ellipse cx="516.5" cy="576.6" rx="3.3" ry="4.6" fill="#151515" transform="rotate(8 516.5 576.6)"/>
<ellipse cx="727" cy="707.6" rx="3.8" ry="5.2" fill="#1a1a1a" transform="rotate(8 727 707.6)"/><ellipse cx="726.4" cy="707.6" rx="0.8" ry="1.8" fill="#777"/>
<ellipse cx="715" cy="779.6" rx="3.8" ry="5.2" fill="#1a1a1a" transform="rotate(8 715 779.6)"/><ellipse cx="714.4" cy="779.6" rx="0.8" ry="1.8" fill="#777"/>
<ellipse cx="417" cy="597" rx="3.8" ry="5.2" fill="#1a1a1a" transform="rotate(8 417 597)"/><ellipse cx="416.4" cy="597" rx="0.8" ry="1.8" fill="#777"/>
<ellipse cx="367.6" cy="656" rx="3.8" ry="5.2" fill="#1a1a1a" transform="rotate(8 367.6 656)"/><ellipse cx="367" cy="656" rx="0.8" ry="1.8" fill="#777"/>
</g>

<!-- ===== FLOAT PARTS / FLAPS ===== -->
<g id="flaps">
<!-- 132.5205 -->
<path class="w" style="stroke-width:1.9" d="M466.5,621 L469.1,617.5 L469.1,614.1 L471.8,612.9 L477,612.4 L520.8,628.1 L520.8,632.5 L525.1,633.9 L526,637.8 L526,660.5 L519.9,666.6 L515.5,665.8 L476.1,653.5 L475.3,650 L470.9,640.4 L466.5,638.6 Z"/>
<path class="o" style="stroke-width:1.7" d="M468,622 L502.4,631.6 L511.1,635.1 L511.1,652.6 L474,640.6 M502.4,631.6 L509.4,626.4 M475.3,650 L515.5,662.6 L519.9,666.6 M469.1,617.5 L472.6,616.4 L471.8,612.9 M520.8,632.5 L519.9,636 L526,637.8 M473,641.3 L475.3,650"/>
<!-- 132.0506 -->
<path class="w" style="stroke-width:1.9" d="M446.6,680.3 L456.9,672.3 L498.1,687.3 L498.1,712.2 L494.4,713 L494.4,729 L489.7,732.8 L447.5,717.8 L440,710.3 L440,685 L439,680.3 L445.6,681.3 Z"/>
<path class="o" style="stroke-width:1.7" d="M446.6,686 L445.6,681.3 M440,685 L446.6,686 M446.6,681.6 L488.8,696.3 L488.8,701 M488.8,696.3 L498.1,687.3 M489.7,699 L496.3,700 L496.3,703.8 L490.5,703 Z M494.4,704.4 L494.4,713 M480.3,690.6 L487.8,685 M488.8,701 L494.4,704.4"/>
<g transform="translate(443.4,607.7) rotate(19) scale(1,1)">
<path d="M0,-3.4 L8.2,-3.2 L8.2,3.2 L0,3.4 Z" fill="#fff" stroke="#141414" stroke-width="1.8" stroke-linejoin="round"/>
<ellipse cx="8.4" cy="0" rx="1.7" ry="3.3" fill="#fff" stroke="#141414" stroke-width="1.4"/>
<ellipse cx="-0.6" cy="0" rx="3.2" ry="6" fill="#fff" stroke="#141414" stroke-width="2.7"/>
<ellipse cx="-0.2" cy="0" rx="1.5" ry="3.3" fill="#fff" stroke="#141414" stroke-width="1.2"/>
</g>
<g transform="translate(405.4,669.2) rotate(19) scale(1,1)">
<path d="M0,-3.4 L8.2,-3.2 L8.2,3.2 L0,3.4 Z" fill="#fff" stroke="#141414" stroke-width="1.8" stroke-linejoin="round"/>
<ellipse cx="8.4" cy="0" rx="1.7" ry="3.3" fill="#fff" stroke="#141414" stroke-width="1.4"/>
<ellipse cx="-0.6" cy="0" rx="3.2" ry="6" fill="#fff" stroke="#141414" stroke-width="2.7"/>
<ellipse cx="-0.2" cy="0" rx="1.5" ry="3.3" fill="#fff" stroke="#141414" stroke-width="1.2"/>
</g>
<g transform="translate(555.5,645) rotate(19) scale(-1,1)">
<path d="M0,-3.4 L8.2,-3.2 L8.2,3.2 L0,3.4 Z" fill="#fff" stroke="#141414" stroke-width="1.8" stroke-linejoin="round"/>
<ellipse cx="8.4" cy="0" rx="1.7" ry="3.3" fill="#fff" stroke="#141414" stroke-width="1.4"/>
<ellipse cx="-0.6" cy="0" rx="3.2" ry="6" fill="#fff" stroke="#141414" stroke-width="2.7"/>
<ellipse cx="-0.2" cy="0" rx="1.5" ry="3.3" fill="#fff" stroke="#141414" stroke-width="1.2"/>
</g>
<g transform="translate(533.6,716.2) rotate(19) scale(-1,1)">
<path d="M0,-3.4 L8.2,-3.2 L8.2,3.2 L0,3.4 Z" fill="#fff" stroke="#141414" stroke-width="1.8" stroke-linejoin="round"/>
<ellipse cx="8.4" cy="0" rx="1.7" ry="3.3" fill="#fff" stroke="#141414" stroke-width="1.4"/>
<ellipse cx="-0.6" cy="0" rx="3.2" ry="6" fill="#fff" stroke="#141414" stroke-width="2.7"/>
<ellipse cx="-0.2" cy="0" rx="1.5" ry="3.3" fill="#fff" stroke="#141414" stroke-width="1.2"/>
</g>
</g>

<!-- ===== BOTTOM LEFT BOX PARTS ===== -->
<g id="blparts">
<g id="tray">
<path d="M58.8,517.5 L93.8,494.4 L146.9,521.3 L146.9,525 L115,552.5 L58.8,521.3 Z" fill="#fff" stroke="#3a3a3a" stroke-width="1.3" stroke-linejoin="round"/>
<path d="M58.8,517.5 L115,548.1 L146.9,521.3 M115,548.1 V552.5" fill="none" stroke="#3a3a3a" stroke-width="1.2" stroke-linejoin="round"/>
<path d="M63.4,518.3 L94.2,497.8 L141.6,522.4 M63.4,518.3 L115.2,545.2 L141.6,522.4 M94.2,497.8 L94,494.6" fill="none" stroke="#3a3a3a" stroke-width="1.1" stroke-linejoin="round"/>
<path d="M67,515.8 l0,2.4 M137.6,525.8 l0,2.6 M120.2,540.8 l0,2.6" stroke="#3a3a3a" stroke-width="0.9" fill="none"/>
<ellipse cx="96.9" cy="520.8" rx="17.6" ry="12" fill="none" stroke="#1a1a1a" stroke-width="1.7" transform="rotate(-14 96.9 520.8)"/>
<path d="M108.6,520.6 L115.4,519.6 L116.4,524.6 L113.6,529.6 L109.8,528.6 L109.6,525 Z" fill="#fff" stroke="#555" stroke-width="1"/>
<path d="M109.6,525 L116.4,524.6" stroke="#555" stroke-width="0.8"/>
<ellipse cx="120.2" cy="523.6" rx="3.2" ry="3.4" fill="#fff" stroke="#444" stroke-width="1.1"/>
<path d="M118.4,522 l3.6,3.2 M122,522 l-3.6,3.2 M116.6,523.4 h1.6" stroke="#555" stroke-width="0.8"/>
</g>
<use href="#tray" x="109.6" y="1.8"/>
<!-- ring 102.0443 -->
<path d="M186.4,596.6 Q181,591.6 172,589.6 Q160,587.6 150,590.6 Q137.6,594.6 137.6,602 Q138.4,610.4 152,613 Q164,614.8 174,610.6 Q181.6,607.2 185.6,599.4" fill="none" stroke="#141414" stroke-width="2.5" stroke-linecap="round"/>
<path d="M186.9,593.2 L192.6,591.9 L195.9,602 L190.3,603.2 Z" fill="#222" stroke="#141414" stroke-width="1.2" stroke-linejoin="round"/>
<path d="M189.6,594.6 l2.2,-0.5 l0.7,2.4 l-2.2,0.5 Z M191,598.6 l2.2,-0.5 l0.7,2.4 l-2.2,0.5 Z" fill="#ddd"/>
</g>

<!-- ===== LABELS ===== -->
<g id="labels" style="opacity:0.995">
<text x="90.2" y="39">132.0529</text>
<text x="73.2" y="67">132.0530</text>
<text x="60.2" y="95">102.0690</text>
<text x="75.2" y="164.5">132.5201</text>
<text x="283.7" y="120" style="font-size:17.5px">132.5204</text>
<text x="450.2" y="26">132.0511</text>
<text x="501.2" y="54">132.0512</text>
<text x="603.2" y="37.5">132.0514</text>
<text x="659.2" y="82.5">132.0513</text>
<text x="363.7" y="112.5">132.0510</text>
<text x="497.2" y="112.5">102.0145</text>
<text x="563.2" y="140">132.0507</text>
<text x="685.2" y="142">102.0613</text>
<text x="411.2" y="157.5">132.0515</text>
<text x="490.2" y="184.5">*109.0493</text>
<text x="663.2" y="172.5">132.0504</text>
<text x="557.2" y="205">132.0516</text>
<text x="681.2" y="223">132.0517</text>
<text x="345.2" y="292.5">102.0399</text>
<text x="409.2" y="314.5">102.1105</text>
<text x="681.7" y="294.5">102.0417</text>
<text x="430.2" y="390">132.6202</text>
<text x="669.7" y="366">132.6202</text>
<text x="679.7" y="489.3">102.1106</text>
<text x="440.2" y="521">132.5206</text>
<text x="511.7" y="543">132.0509</text>
<text x="555.2" y="565">102.0254</text>
<text x="483.2" y="612">132.5205</text>
<text x="643.2" y="625.5">132.5203</text>
<text x="295.2" y="672.5">102.0254</text>
<text x="337.2" y="695">*109.0955</text>
<text x="387.2" y="734">132.0506</text>
<text x="453.7" y="759">*109.0955</text>
<text x="540.2" y="760">132.5203</text>
<text x="614.7" y="782.5">132.0509</text>
<text x="675.2" y="799">102.0254</text>
<text x="63.7" y="572">131.0524</text>
<text x="181.2" y="574">131.0524</text>
<text x="131.4" y="632">102.0443</text>
</g>
</svg>
</body>
</html>
